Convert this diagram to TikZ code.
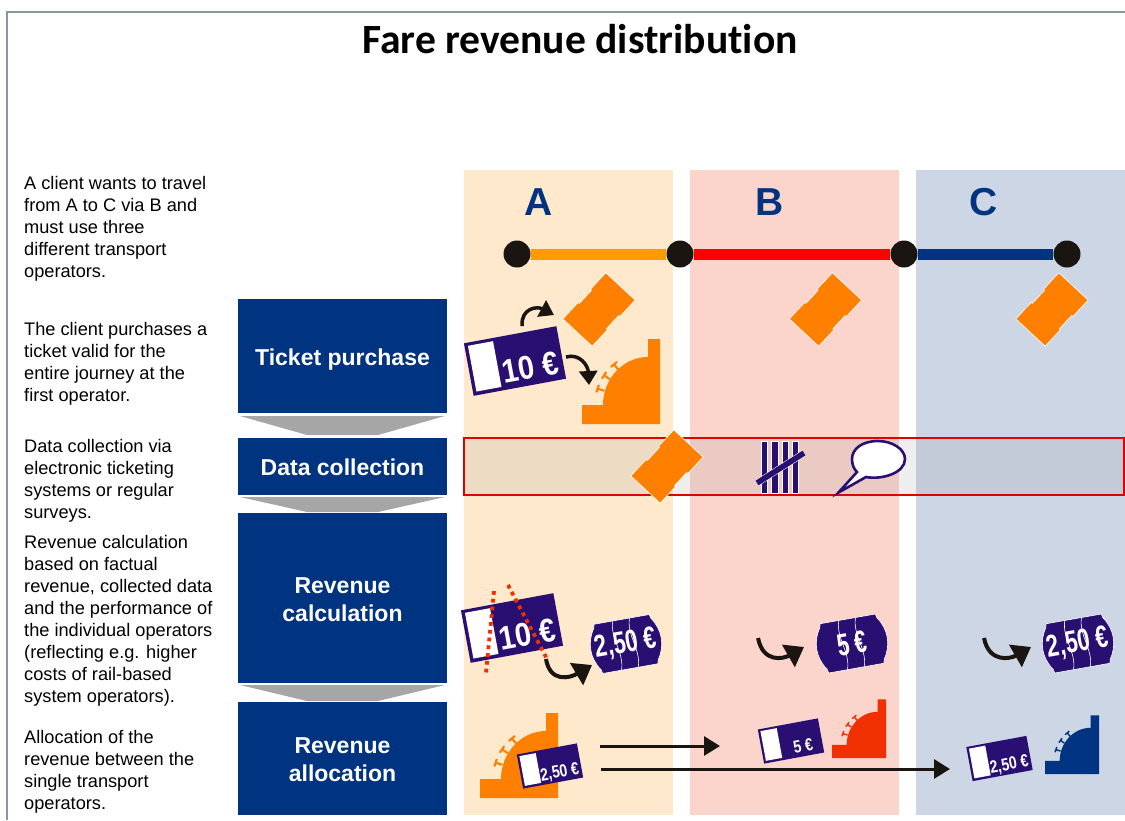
\documentclass[tikz,border=0pt]{standalone}
\usepackage{fontspec}
\setmainfont{Liberation Sans}
\newfontfamily\titlefont[Ligatures=NoCommon]{Carlito}
\usetikzlibrary{arrows.meta}
\definecolor{navy}{HTML}{003380}
\definecolor{ink}{HTML}{2A0F73}
\definecolor{blk}{HTML}{1A1510}
\definecolor{orng}{HTML}{FF7F00}
\definecolor{redm}{HTML}{F03000}
\definecolor{bandA}{HTML}{FEE9CC}
\definecolor{bandB}{HTML}{FBD5CC}
\definecolor{bandC}{HTML}{CDD6E5}
\definecolor{frameg}{HTML}{87999A}
\definecolor{arrg}{HTML}{A6A6A6}
\definecolor{lineor}{HTML}{FF9A00}
\definecolor{strip}{HTML}{969696}
\definecolor{stripline}{HTML}{E00000}
\tikzset{
  stagebox/.style={fill=navy,minimum width=209pt,inner sep=0pt,outer sep=0pt},
  stagetext/.style={text=white,align=center,inner sep=0pt,font=\fontsize{23}{28}\selectfont\bfseries},
  desc/.style={anchor=north west,align=left,inner sep=0pt,font=\fontsize{18.2}{22}\selectfont},
  letter/.style={text=navy,font=\fontsize{39}{40}\selectfont\bfseries,inner sep=0pt},
  stop/.style={circle,fill=blk,minimum size=27pt,inner sep=0pt},
  linkline/.style={line width=11pt},
  curvedsm/.style={blk,line width=3.5pt,-{Triangle[length=14pt,width=18pt]}},
  curvedbg/.style={blk,line width=4pt,-{Triangle[length=18pt,width=25pt]}},
  longarrow/.style={blk,line width=3pt,-{Triangle[length=16pt,width=19pt]}},
  flowdown/.style={fill=arrg},
  strike/.style={draw=redm,line width=3.8pt,dash pattern=on 3.8pt off 4pt},
}
% name, x, y, scale, text, font size, text x, text y, text xscale
\newcommand{\ticket}[9]{%
  \begin{scope}[shift={(#2,-#3)},rotate=10.5,scale=#4,transform shape]
    \node[fill=ink,minimum width=94pt,minimum height=53.4pt,inner sep=0pt] (#1) at (0,0) {};
    \fill[white] (-43.5,-23) rectangle (-18,23.5);
    \node[text=white,inner sep=0pt,xscale=#9,font=\fontsize{#6}{#6}\selectfont\bfseries] (#1t) at (#7,#8) {#5};
  \end{scope}}
% name, x, y, text, text xscale
\newcommand{\pricetag}[5]{%
  \begin{scope}[shift={(#2,-#3)},rotate=10,transform shape]
    \filldraw[fill=ink,draw=white,line width=.6pt] (-29,21) -- (-28,25) -- (28,25) -- (29,21)
      .. controls (38,8) and (38,-8) .. (29,-21) -- (28,-25) -- (-28,-25) -- (-29,-21)
      .. controls (-38,-8) and (-38,8) .. cycle;
    \draw[white,line width=.6pt] (-9,25) .. controls (-15,8) and (-3,-8) .. (-9,-25);
    \draw[white,line width=.6pt] (8,25) .. controls (2,8) and (14,-8) .. (8,-25);
    \node[text=white,inner sep=0pt,xscale=#5,font=\fontsize{31}{31}\selectfont\bfseries] (#1) at (0,0) {#4};
  \end{scope}}
% x right, y bottom, scale, colour
\newcommand{\machine}[4]{%
  \begin{scope}[shift={(#1,-#2)},scale=#3]
    \fill[#4] (0,0) -- (0,85) -- (-12,85) -- (-12,67)
      .. controls (-37,67) and (-57,45) .. (-57,19) -- (-78,19) -- (-78,0) -- cycle;
    \foreach \a in {130,146,162} {
      \begin{scope}[shift={(-12,19)},rotate=\a]
        \draw[#4,line width=2.1*#3 pt] (46,0) -- (53,0) (53,-4) -- (53,4);
      \end{scope}}
  \end{scope}}
% x, y
\newcommand{\gate}[2]{%
  \begin{scope}[shift={(#1,-#2)},rotate=47]
    \filldraw[fill=orng,draw=white,line width=.6pt] (-31.5,-20) -- (-9,-20) -- (-9,-18.5) -- (9,-18.5) -- (9,-20)
      -- (31.5,-20) -- (31.5,20) -- (9,20) -- (9,18.5) -- (-9,18.5) -- (-9,20) -- (-31.5,20) -- cycle;
  \end{scope}}
\begin{document}
\begin{tikzpicture}[x=1pt,y=1pt]
\useasboundingbox (0,0) rectangle (1125,-820);
% frame
\draw[frameg,line width=1.3pt] (7,-820) -- (7,-12) -- (1125,-12);
\node[font=\titlefont\fontsize{41.6}{42}\selectfont\bfseries,inner sep=0pt] (title) at (580,-39) {Fare revenue distribution};
% bands
\fill[bandA] (464,-170) rectangle (673,-815);
\fill[bandB] (690,-170) rectangle (899,-815);
\fill[bandC] (916,-170) rectangle (1125,-815);
% route
\node[letter] (la) at (539,-202) {A};
\node[letter] (lb) at (770,-202) {B};
\node[letter] (lc) at (984,-202) {C};
\node[stop] (s1) at (517,-254) {};
\node[stop] (s2) at (680,-254) {};
\node[stop] (s3) at (904,-254) {};
\node[stop] (s4) at (1067,-254) {};
\draw[linkline,draw=lineor] (s1) -- (s2);
\draw[linkline,draw=red] (s2) -- (s3);
\draw[linkline,draw=navy] (s3) -- (s4);
% descriptions
\node[desc] (d1) at (24,-176.5) {A client wants to travel\\from A to C via B and\\must use three\\different transport\\operators.};
\node[desc] (d2) at (24,-322.5) {The client purchases a\\ticket valid for the\\entire journey at the\\first operator.};
\node[desc] (d3) at (24,-439.5) {Data collection via\\electronic ticketing\\systems or regular\\surveys.};
\node[desc] (d4) at (24,-535.5) {Revenue calculation\\based on factual\\revenue, collected data\\and the performance of\\the individual operators\\(reflecting e.g. higher\\costs of rail-based\\system operators).};
\node[desc] (d5) at (24,-730.5) {Allocation of the\\revenue between the\\single transport\\operators.};
% stage boxes
\node[stagebox,minimum height=114pt] (b1) at (342.5,-356) {};
\node[stagebox,minimum height=57pt] (b2) at (342.5,-466.5) {};
\node[stagebox,minimum height=170pt] (b3) at (342.5,-598) {};
\node[stagebox,minimum height=113pt] (b4) at (342.5,-758.5) {};
\node[stagetext] (b1t) at (342.5,-359.5) {Ticket purchase};
\node[stagetext] (b2t) at (342.5,-467.5) {Data collection};
\node[stagetext] (b3t) at (342.5,-600) {Revenue\\calculation};
\node[stagetext] (b4t) at (342.5,-759.5) {Revenue\\allocation};
\fill[flowdown] (240,-416) -- (445,-416) -- (378,-435) -- (307,-435) -- cycle;
\fill[flowdown] (240,-497) -- (445,-497) -- (378,-512) -- (307,-512) -- cycle;
\fill[flowdown] (240,-685) -- (445,-685) -- (378,-701) -- (307,-701) -- cycle;
% data collection band
\fill[strip,fill opacity=.16] (464,-438) rectangle (1124,-495);
\draw[stripline,line width=2pt] (464,-438) rectangle (1124,-495);
% gates
\gate{599}{309.5}
\gate{825.5}{309.5}
\gate{1052}{309.5}
\gate{667}{466.5}
% tally
\foreach \tx in {764,774.5,785,795} {\filldraw[fill=ink,draw=white,line width=.3pt] (\tx-3.2,-441) rectangle (\tx+3.2,-493);}
\draw[white,line width=6.6pt] (757,-483) -- (804,-453);
\draw[ink,line width=5.6pt] (757,-483) -- (804,-453);
% speech bubble
\filldraw[fill=white,draw=ink,line width=2.6pt] (857,-472) -- (838.5,-492.5) -- (866,-477)
  .. controls (882,-480) and (905,-473) .. (905,-459)
  .. controls (905,-449) and (892,-441) .. (878,-441)
  .. controls (862,-441) and (852,-449) .. (852,-459)
  .. controls (852,-465) and (854,-469) .. cycle;
% machines, tickets and tags
\machine{660}{424}{1}{orng}
\ticket{t1}{515}{361}{1}{10 €}{33}{14}{-9}{.88}
\ticket{t2}{512}{628}{1}{10 €}{33}{14}{-9}{.88}
\draw[strike] (494,-591) -- (486,-673);
\draw[strike] (508,-585) -- (547,-659);
\pricetag{p1}{626}{644}{2,50 €}{.72}
\pricetag{p2}{852}{643.5}{5 €}{.7}
\pricetag{p3}{1078}{643.5}{2,50 €}{.72}
\machine{558}{798}{1}{orng}
\machine{886}{758}{.69}{redm}
\machine{1099}{774}{.69}{navy}
\ticket{t3}{550}{766}{.65}{2,50 €}{27}{13}{-13}{.8}
\ticket{t4}{791}{741}{.65}{5 €}{27}{17}{-11}{.8}
\ticket{t5}{999.5}{758.5}{.65}{2,50 €}{27}{13}{-13}{.8}
% curved arrows
\coordinate (c1a) at (522,-326); \coordinate (c1b) at (554,-315);
\coordinate (c2a) at (566,-357); \coordinate (c2b) at (589,-385);
\coordinate (c3a) at (546,-659); \coordinate (c3b) at (592,-665);
\coordinate (c4a) at (758,-638); \coordinate (c4b) at (804,-647);
\coordinate (c5a) at (984,-638); \coordinate (c5b) at (1031,-647);
\draw[curvedsm] (c1a) .. controls (521,-308) and (537,-306) .. (c1b);
\draw[curvedsm] (c2a) .. controls (580,-353) and (588,-366) .. (c2b);
\draw[curvedbg] (c3a) .. controls (550,-683) and (570,-678) .. (c3b);
\draw[curvedbg] (c4a) .. controls (763,-663) and (783,-659) .. (c4b);
\draw[curvedbg] (c5a) .. controls (989,-663) and (1010,-659) .. (c5b);
% long arrows
\coordinate (l1a) at (600,-746); \coordinate (l1b) at (720,-746);
\coordinate (l2a) at (601,-769); \coordinate (l2b) at (950,-769);
\draw[longarrow] (l1a) -- (l1b);
\draw[longarrow] (l2a) -- (l2b);
\end{tikzpicture}
\end{document}
